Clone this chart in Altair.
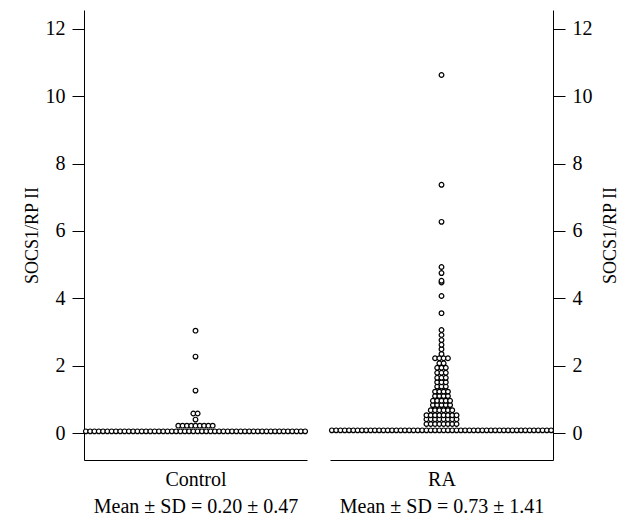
import altair as alt
import pandas as pd

# ---- data ----
groups = ["Control", "RA"]
control_levels = [0.05, 0.22, 0.40, 0.58, 1.26, 2.27, 3.04]
control_counts = [52, 9, 1, 2, 1, 1, 1]

ra_levels = [0.08, 0.27, 0.41, 0.53, 0.68, 0.83, 0.96, 1.10, 1.23, 1.38, 1.51,
             1.64, 1.79, 1.94, 2.07, 2.22, 2.35, 2.49, 2.62, 2.76, 2.91, 3.06,
             3.56, 4.07, 4.47, 4.52, 4.75, 4.93, 6.27, 7.37, 10.63]
ra_counts = [52, 8, 8, 8, 6, 5, 5, 4, 4, 3, 3,
             3, 3, 3, 2, 4, 1, 1, 1, 1, 1, 1,
             1, 1, 1, 1, 1, 1, 1, 1, 1]

captions = {"Control": "Mean ± SD = 0.20 ± 0.47", "RA": "Mean ± SD = 0.73 ± 1.41"}
y_ticks = [0, 2, 4, 6, 8, 10, 12]

rows = []
for g, lv, ct in [("Control", control_levels, control_counts), ("RA", ra_levels, ra_counts)]:
    for v, c in zip(lv, ct):
        for _ in range(c):
            rows.append({"group": g, "value": v})
df = pd.DataFrame(rows)

FONT = "Liberation Serif"
W, H = 223, 450
SPACING = 4.3


def panel(g, orient):
    base = alt.Chart(df[df.group == g]).transform_window(
        rank="row_number()", groupby=["value"]
    ).transform_joinaggregate(
        n="count()", groupby=["value"]
    ).transform_calculate(
        xo=f"(datum.rank - (datum.n + 1) / 2) * {SPACING}"
    )
    if orient == "right":
        title_opts = {"titleBaseline": "top", "titlePadding": 9}
    else:
        title_opts = {"titlePadding": 4}
    return base.mark_point(
        shape="circle", size=22, filled=False, stroke="black",
        strokeWidth=1.2, fill="white", fillOpacity=1, opacity=1
    ).encode(
        x=alt.X("xo:Q", scale=alt.Scale(domain=[-W / 2, W / 2], nice=False, zero=False),
                axis=alt.Axis(title=[g, captions[g]], labels=False, ticks=False, grid=False,
                              domain=True, domainColor="black", titleFont=FONT,
                              titleFontSize=20, titleFontWeight="normal",
                              titleLineHeight=27, titlePadding=9, titleColor="black")),
        y=alt.Y("value:Q", scale=alt.Scale(domain=[-0.8, 12.56], nice=False, zero=False),
                axis=alt.Axis(orient=orient, values=y_ticks, title="SOCS1/RP II", grid=False,
                              tickSize=12, tickColor="black", domainColor="black",
                              labelFont=FONT, labelFontSize=20, labelColor="black",
                              labelPadding=7, titleFont=FONT, titleFontSize=18,
                              titleAngle=270,
                              titleFontWeight="normal", titleColor="black",
                              **title_opts)),
    ).properties(width=W, height=H)


chart = alt.hconcat(panel("Control", "left"), panel("RA", "right"), spacing=17).configure_view(
    stroke=None
).properties(padding={"left": 15, "top": 2, "right": 0, "bottom": 5})

chart.save("out.html", embed_options={"renderer": "svg", "actions": False})
